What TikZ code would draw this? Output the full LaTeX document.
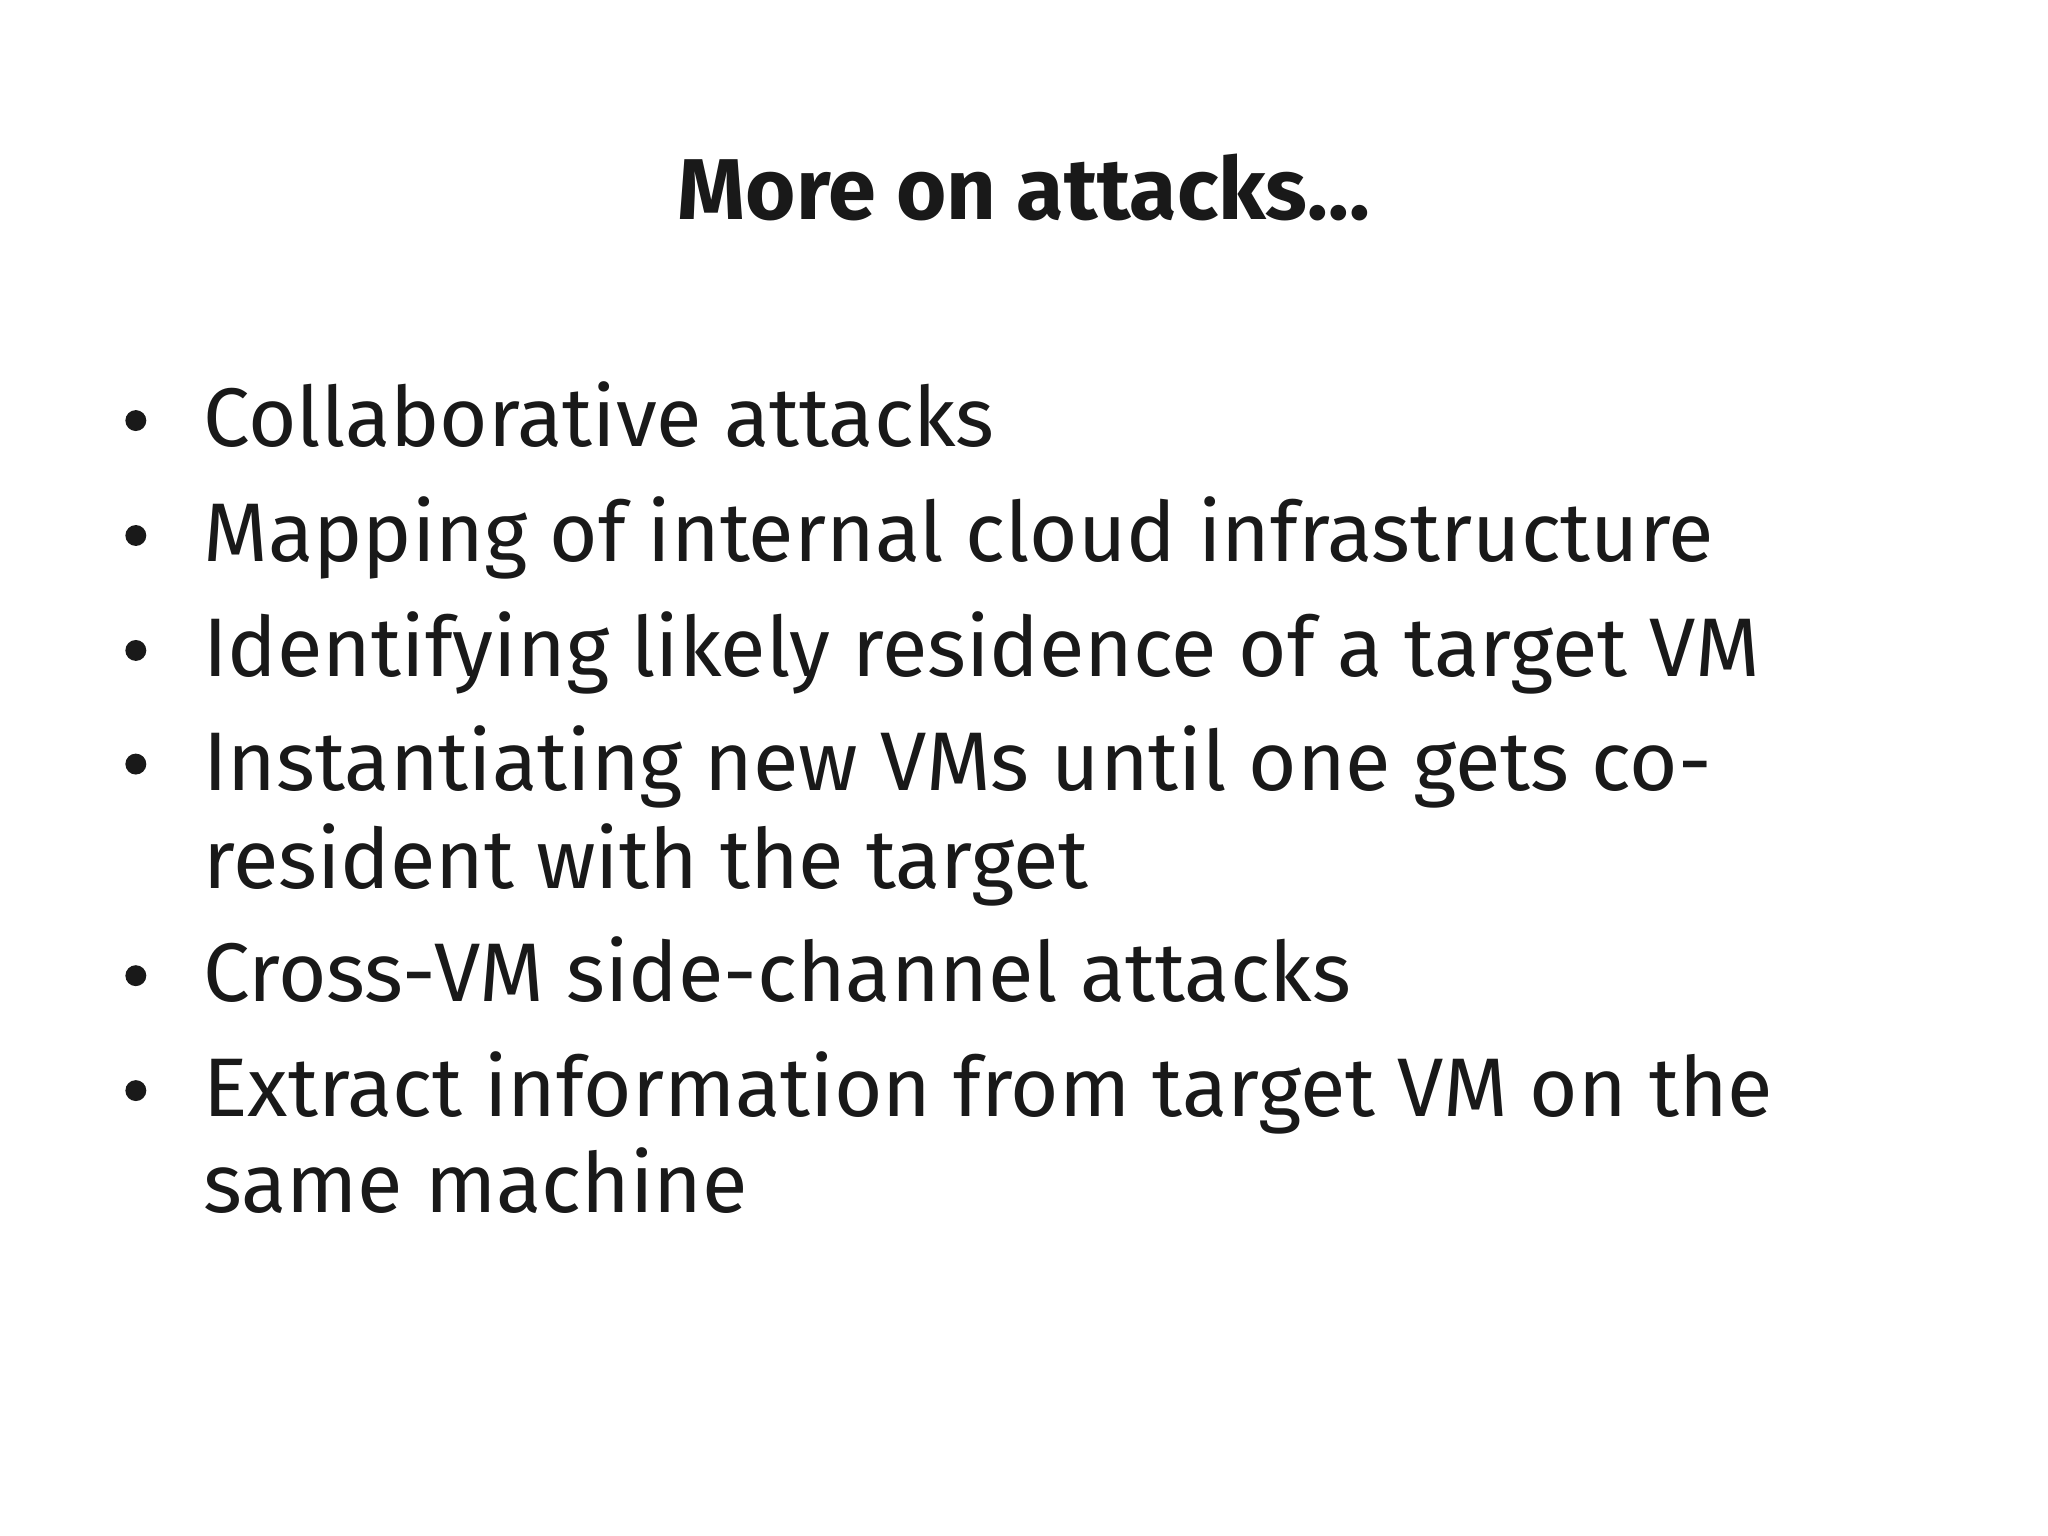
\documentclass[tikz,border=0pt]{standalone}
\usepackage{fontspec}
\setmainfont{Fira Sans}
\begin{document}
\begin{tikzpicture}[x=0.01cm,y=-0.01cm,
  item/.style={anchor=base west,inner sep=0pt,font=\fontsize{18.1}{21}\selectfont,text=black!90},
  dot/.style={circle,fill=black!90,inner sep=0pt,minimum size=0.16cm}]
\useasboundingbox[fill=white] (0,0) rectangle (1568,1176);
\node[anchor=base,inner sep=0pt,font=\fontsize{18.8}{21}\selectfont\bfseries,text=black!90] (title) at (784,168) {More on attacks…};
\foreach \n/\y/\t in {a/342/Collaborative attacks,
  b/430/Mapping of internal cloud infrastructure,
  c/518/Identifying likely residence of a target VM,
  d/605/Instantiating new VMs until one gets co-,
  e/767/Cross-VM side-channel attacks,
  f/855/Extract information from target VM on the}{
  \node[item] (\n) at (155,\y) {\t};
  \node[dot] (\n dot) at (104,\y-20) {};
}
\node[item] (d2) at (155,680) {resident with the target};
\node[item] (f2) at (155,928) {same machine};
\end{tikzpicture}
\end{document}
